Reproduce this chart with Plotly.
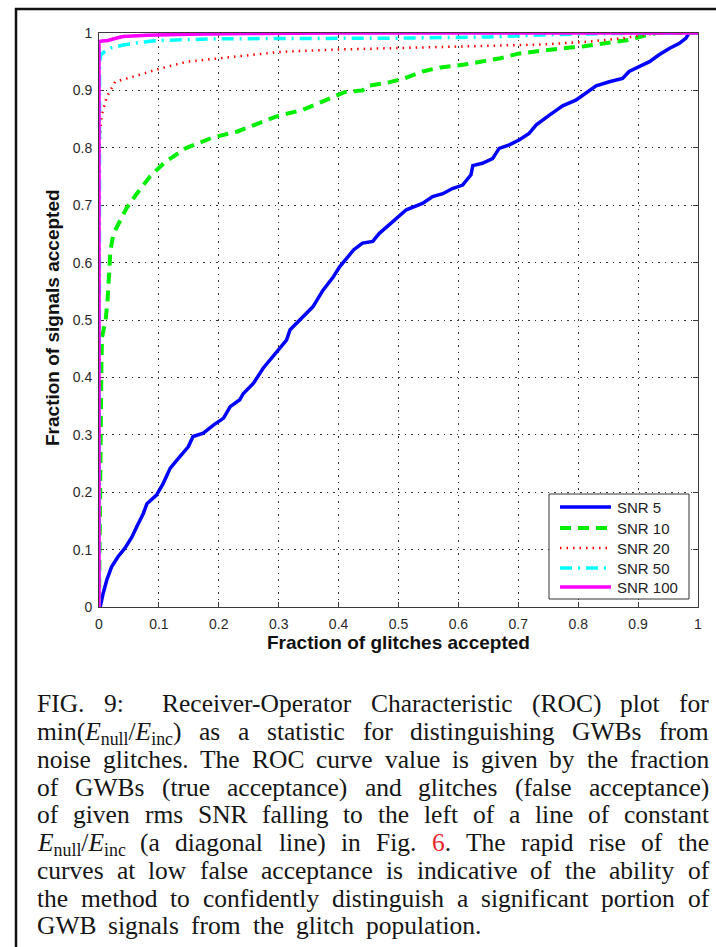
import re
import plotly.graph_objects as go

# ---------------- data ----------------
series_names = ["SNR 5", "SNR 10", "SNR 20", "SNR 50", "SNR 100"]

snr5_x = [0, 0.002, 0.007, 0.013, 0.021, 0.032, 0.043, 0.055, 0.063, 0.074, 0.080, 0.096, 0.107,
          0.119, 0.135, 0.149, 0.157, 0.174, 0.191, 0.208, 0.219, 0.235, 0.241, 0.258, 0.274,
          0.285, 0.302, 0.313, 0.319, 0.330, 0.347, 0.357, 0.374, 0.391, 0.402, 0.425, 0.436,
          0.440, 0.457, 0.468, 0.490, 0.513, 0.540, 0.557, 0.574, 0.590, 0.607, 0.621, 0.624,
          0.640, 0.657, 0.668, 0.685, 0.702, 0.718, 0.730, 0.752, 0.774, 0.796, 0.813, 0.830,
          0.852, 0.874, 0.885, 0.902, 0.919, 0.935, 0.952, 0.969, 0.980, 0.985, 1.0]
snr5_y = [0, 0.0, 0.024, 0.047, 0.070, 0.088, 0.102, 0.122, 0.140, 0.163, 0.180, 0.195, 0.215,
          0.242, 0.262, 0.279, 0.297, 0.303, 0.317, 0.329, 0.349, 0.361, 0.372, 0.390, 0.416,
          0.430, 0.453, 0.465, 0.483, 0.494, 0.512, 0.523, 0.552, 0.575, 0.593, 0.622, 0.631,
          0.634, 0.637, 0.651, 0.671, 0.692, 0.703, 0.715, 0.720, 0.729, 0.735, 0.753, 0.769,
          0.773, 0.781, 0.799, 0.805, 0.814, 0.825, 0.840, 0.857, 0.873, 0.883, 0.895, 0.908,
          0.915, 0.921, 0.933, 0.941, 0.950, 0.962, 0.973, 0.982, 0.991, 1.0, 1.0]

snr10_x = [0, 0.001, 0.002, 0.004, 0.005, 0.008, 0.011, 0.014, 0.016, 0.018, 0.019, 0.024, 0.035,
           0.046, 0.063, 0.085, 0.110, 0.146, 0.190, 0.230, 0.260, 0.300, 0.340, 0.380, 0.410,
           0.440, 0.450, 0.480, 0.510, 0.540, 0.570, 0.610, 0.640, 0.670, 0.700, 0.740, 0.770,
           0.810, 0.850, 0.885, 0.910, 0.930, 1.0]
snr10_y = [0, 0.15, 0.30, 0.42, 0.47, 0.485, 0.50, 0.53, 0.57, 0.60, 0.62, 0.65, 0.672,
           0.695, 0.720, 0.750, 0.775, 0.800, 0.818, 0.828, 0.840, 0.856, 0.866, 0.883, 0.897,
           0.900, 0.908, 0.913, 0.921, 0.933, 0.940, 0.945, 0.950, 0.956, 0.964, 0.970, 0.973,
           0.977, 0.983, 0.988, 0.995, 1.0, 1.0]

snr20_x = [0, 0.001, 0.003, 0.0045, 0.013, 0.027, 0.057, 0.102, 0.147, 0.202, 0.257, 0.302,
           0.390, 0.429, 0.596, 0.741, 0.818, 0.875, 0.918, 0.95, 1.0]
snr20_y = [0, 0.80, 0.84, 0.857, 0.889, 0.915, 0.924, 0.938, 0.950, 0.956, 0.962, 0.967,
           0.971, 0.972, 0.976, 0.980, 0.985, 0.991, 0.998, 1.0, 1.0]

snr50_x = [0, 0.001, 0.003, 0.01, 0.02, 0.04, 0.07, 0.1, 0.2, 0.3, 0.5, 0.65, 0.75, 0.85, 1.0]
snr50_y = [0, 0.95, 0.962, 0.968, 0.974, 0.979, 0.984, 0.987, 0.990, 0.990, 0.991, 0.993,
           0.997, 0.999, 1.0]

snr100_x = [0, 0, 0.005, 0.015, 0.025, 0.04, 0.08, 0.15, 0.25, 0.4, 1.0]
snr100_y = [0, 0.985, 0.986, 0.987, 0.990, 0.994, 0.996, 0.998, 0.999, 1.0, 1.0]

tick_vals = [0, 0.1, 0.2, 0.3, 0.4, 0.5, 0.6, 0.7, 0.8, 0.9, 1.0]
tick_text = ["0", "0.1", "0.2", "0.3", "0.4", "0.5", "0.6", "0.7", "0.8", "0.9", "1"]

x_title = "Fraction of glitches accepted"
y_title = "Fraction of signals accepted"

caption_lines = [
    "FIG. 9:  Receiver-Operator Characteristic (ROC) plot for",
    "min(<i>E</i><sub>null</sub>/<i>E</i><sub>inc</sub>) as a statistic for distinguishing GWBs from",
    "noise glitches. The ROC curve value is given by the fraction",
    "of GWBs (true acceptance) and glitches (false acceptance)",
    "of given rms SNR falling to the left of a line of constant",
    "<i>E</i><sub>null</sub>/<i>E</i><sub>inc</sub> (a diagonal line) in Fig. <span style='color:#e8242a'>6</span>. The rapid rise of the",
    "curves at low false acceptance is indicative of the ability of",
    "the method to confidently distinguish a significant portion of",
    "GWB signals from the glitch population.",
]

# ---------------- styles ----------------
colors = ["#0000FF", "#00EE00", "#FF0000", "#00FFFF", "#FF00FF"]
widths = [3.5, 4, 2.5, 3.5, 3.5]
dashes = ["solid", "11px,7px", "1.5px,5px", "12px,6px,2px,6px", "solid"]

W, H = 716, 947
ML, MR, MT, MB = 99, 18, 33, 340
PW = W - ML - MR
PH = H - MT - MB


def px2x(px):
    return (px - ML) / PW


def px2y(py):
    return (H - MB - py) / PH


fig = go.Figure()
xs = [snr5_x, snr10_x, snr20_x, snr50_x, snr100_x]
ys = [snr5_y, snr10_y, snr20_y, snr50_y, snr100_y]
for name, x, y, c, w, d in zip(series_names, xs, ys, colors, widths, dashes):
    fig.add_trace(go.Scatter(x=x, y=y, mode="lines", name=name, showlegend=False,
                             line=dict(color=c, width=w, dash=d)))

axis_common = dict(
    range=[0, 1], tickvals=tick_vals, ticktext=tick_text,
    showline=True, linecolor="#3a3a3a", linewidth=1, mirror="ticks",
    ticks="inside", ticklen=5, tickcolor="#3a3a3a",
    showgrid=True, gridcolor="#333333", gridwidth=1, griddash="1.5px,5px",
    zeroline=False, layer="below traces", fixedrange=True,
    tickfont=dict(family="Liberation Sans, Arial", size=14, color="#2a2a2a"),
)

fig.update_layout(
    width=W, height=H, autosize=False,
    margin=dict(l=ML, r=MR, t=MT, b=MB, pad=0),
    paper_bgcolor="white", plot_bgcolor="white",
    xaxis=dict(**axis_common, ticklabelstandoff=4),
    yaxis=dict(**axis_common, ticklabelstandoff=3),
)

annotations = []
shapes = []

# axis titles
annotations.append(dict(text="<b>%s</b>" % x_title, xref="paper", yref="paper",
                        x=px2x(398), y=px2y(642), xanchor="center", yanchor="middle",
                        showarrow=False,
                        font=dict(family="Liberation Sans, Arial", size=19, color="#111")))
annotations.append(dict(text="<b>%s</b>" % y_title, xref="paper", yref="paper",
                        x=px2x(52), y=px2y(318), xanchor="center", yanchor="middle",
                        textangle=-90, showarrow=False,
                        font=dict(family="Liberation Sans, Arial", size=19, color="#111")))

# manual legend (MATLAB style, long line samples)
lx0, lx1, ly0, ly1 = 549, 689, 494, 599
shapes.append(dict(type="rect", xref="paper", yref="paper",
                   x0=px2x(lx0), x1=px2x(lx1), y0=px2y(ly1), y1=px2y(ly0),
                   line=dict(color="#333", width=1), fillcolor="white", layer="above"))
row_y = [507, 528, 548, 568, 587]
for name, c, w, d, ry in zip(series_names, colors, widths, dashes, row_y):
    shapes.append(dict(type="line", xref="paper", yref="paper",
                       x0=px2x(560), x1=px2x(611), y0=px2y(ry), y1=px2y(ry),
                       line=dict(color=c, width=w, dash=d), layer="above"))
    annotations.append(dict(text=name, xref="paper", yref="paper", x=px2x(616), y=px2y(ry),
                            xanchor="left", yanchor="middle", showarrow=False, borderpad=0,
                            font=dict(family="Liberation Sans, Arial", size=15, color="#222")))

# outer frame (page box)
shapes.append(dict(type="line", xref="paper", yref="paper", x0=px2x(16), x1=px2x(16),
                   y0=px2y(8), y1=px2y(H + 5), line=dict(color="#111", width=2.5)))
shapes.append(dict(type="line", xref="paper", yref="paper", x0=px2x(15), x1=px2x(W + 5),
                   y0=px2y(9), y1=px2y(9), line=dict(color="#111", width=2.5)))

# caption: justified lines, words placed using Times/Liberation Serif metrics
TIMES = {' ': 250, '!': 333, '(': 333, ')': 333, ',': 250, '-': 333, '.': 250, '/': 278,
         ':': 278, ';': 278, '?': 444,
         'A': 722, 'B': 667, 'C': 667, 'D': 722, 'E': 611, 'F': 556, 'G': 722, 'H': 722,
         'I': 333, 'J': 389, 'K': 722, 'L': 611, 'M': 889, 'N': 722, 'O': 722, 'P': 556,
         'Q': 722, 'R': 667, 'S': 556, 'T': 611, 'U': 722, 'V': 722, 'W': 944, 'X': 722,
         'Y': 722, 'Z': 611,
         'a': 444, 'b': 500, 'c': 444, 'd': 500, 'e': 444, 'f': 333, 'g': 500, 'h': 500,
         'i': 278, 'j': 278, 'k': 500, 'l': 278, 'm': 778, 'n': 500, 'o': 500, 'p': 500,
         'q': 500, 'r': 333, 's': 389, 't': 278, 'u': 500, 'v': 500, 'w': 722, 'x': 500,
         'y': 500, 'z': 444}
for dgt in "0123456789":
    TIMES[dgt] = 500

CAP_SIZE = 25.5
CAP_FONT = "Liberation Serif, Times New Roman, serif"


def text_width(html, size):
    total, scale = 0.0, 1.0
    for tok in re.split(r"(<[^>]+>)", html):
        if tok.startswith("<"):
            t = tok.lower()
            if t == "<sub>":
                scale = 0.7
            elif t == "</sub>":
                scale = 1.0
            continue
        for ch in tok:
            total += TIMES.get(ch, 500) * scale
    return total * size / 1000.0


cap_left, cap_right = 36, 708
base0, lstep = 711, 27.75
for i, line in enumerate(caption_lines):
    parts = re.split(r"( +)", line.replace("<span style='color:#e8242a'>", "<span_style='color:#e8242a'>"))
    words = [p.replace("<span_style=", "<span style=") for p in parts[0::2]]
    gaps = [len(g) for g in parts[1::2]]
    wsum = sum(text_width(wd, CAP_SIZE) for wd in words)
    if i == len(caption_lines) - 1:
        unit = 12.0
    else:
        unit = (cap_right - cap_left - wsum) / max(sum(gaps), 1)
    base = base0 + i * lstep
    top = base - 0.891 * CAP_SIZE
    xcur = cap_left
    for k, wd in enumerate(words):
        annotations.append(dict(text=wd, xref="paper", yref="paper", x=px2x(xcur), y=px2y(top),
                                xanchor="left", yanchor="top", showarrow=False, borderpad=0,
                                font=dict(family=CAP_FONT, size=CAP_SIZE, color="#151515")))
        xcur += text_width(wd, CAP_SIZE)
        if k < len(gaps):
            xcur += unit * gaps[k]

fig.update_layout(annotations=annotations, shapes=shapes)
fig.write_html("out.html")
